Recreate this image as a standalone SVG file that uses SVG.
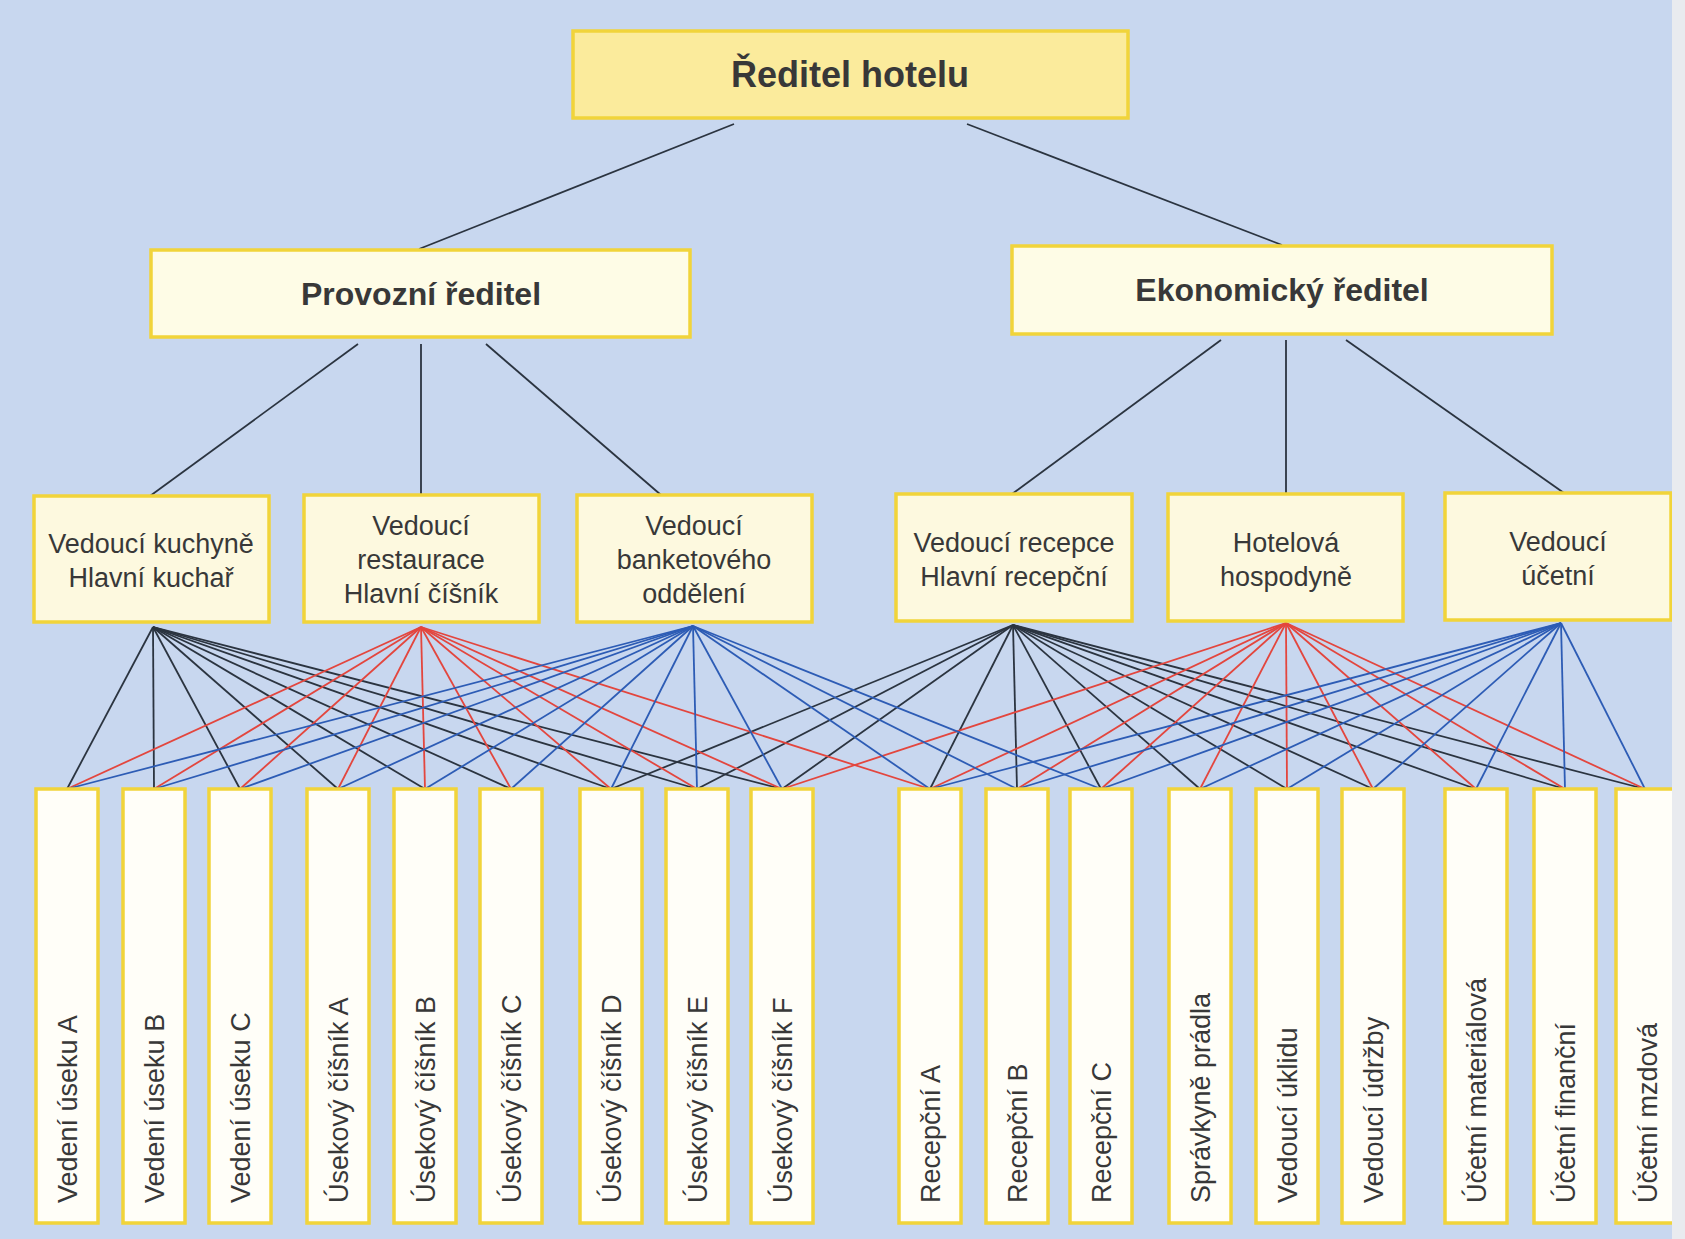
<svg xmlns="http://www.w3.org/2000/svg" width="1685" height="1239" viewBox="0 0 1685 1239">
<style>
.bg{fill:#c8d7ef}
.top{fill:#fbeb9c;stroke:#f1d43a;stroke-width:3.5}
.lvl2{fill:#fefce6;stroke:#f1d43a;stroke-width:3.5}
.mid{fill:#fdf9df;stroke:#f1d43a;stroke-width:3.5}
.leaf{fill:#fffef8;stroke:#f1d43a;stroke-width:3.5}
.t{font-family:"Liberation Sans",Arial,sans-serif;fill:#383838}
.tb{font-weight:bold;text-anchor:middle}
.tm{font-size:27px;text-anchor:middle}
.tl{font-size:27px}
.k{stroke:#2b3440;stroke-width:1.8;fill:none}
.r{stroke:#e3463e;stroke-width:1.8;fill:none}
.b{stroke:#2d5cb5;stroke-width:1.8;fill:none}
</style>
<rect class="bg" x="0" y="0" width="1685" height="1239"/>

<g id="connectors">
  <g class="k">
    <line x1="734" y1="124" x2="419" y2="249"/>
    <line x1="967" y1="124" x2="1282" y2="245"/>
    <line x1="358" y1="344" x2="150" y2="496"/>
    <line x1="421" y1="344" x2="421" y2="495"/>
    <line x1="486" y1="344" x2="661" y2="495"/>
    <line x1="1221" y1="340" x2="1012" y2="494"/>
    <line x1="1286" y1="340" x2="1286" y2="494"/>
    <line x1="1346" y1="340" x2="1564" y2="493"/>
  </g>
  <g class="k">
    <line x1="153" y1="627" x2="67" y2="789"/>
    <line x1="153" y1="627" x2="154" y2="789"/>
    <line x1="153" y1="627" x2="240" y2="789"/>
    <line x1="153" y1="627" x2="338" y2="789"/>
    <line x1="153" y1="627" x2="425" y2="789"/>
    <line x1="153" y1="627" x2="511" y2="789"/>
    <line x1="153" y1="627" x2="611" y2="789"/>
    <line x1="153" y1="627" x2="697" y2="789"/>
    <line x1="153" y1="627" x2="782" y2="789"/>
    <line x1="1013" y1="625" x2="611" y2="789"/>
    <line x1="1013" y1="625" x2="697" y2="789"/>
    <line x1="1013" y1="625" x2="782" y2="789"/>
    <line x1="1013" y1="625" x2="930" y2="789"/>
    <line x1="1013" y1="625" x2="1017" y2="789"/>
    <line x1="1013" y1="625" x2="1101" y2="789"/>
    <line x1="1013" y1="625" x2="1200" y2="789"/>
    <line x1="1013" y1="625" x2="1287" y2="789"/>
    <line x1="1013" y1="625" x2="1373" y2="789"/>
    <line x1="1013" y1="625" x2="1476" y2="789"/>
    <line x1="1013" y1="625" x2="1565" y2="789"/>
    <line x1="1013" y1="625" x2="1645" y2="789"/>
  </g>
  <g class="r">
    <line x1="421" y1="627" x2="67" y2="789"/>
    <line x1="421" y1="627" x2="154" y2="789"/>
    <line x1="421" y1="627" x2="240" y2="789"/>
    <line x1="421" y1="627" x2="338" y2="789"/>
    <line x1="421" y1="627" x2="425" y2="789"/>
    <line x1="421" y1="627" x2="511" y2="789"/>
    <line x1="421" y1="627" x2="611" y2="789"/>
    <line x1="421" y1="627" x2="697" y2="789"/>
    <line x1="421" y1="627" x2="782" y2="789"/>
    <line x1="421" y1="627" x2="930" y2="789"/>
    <line x1="1286" y1="623" x2="782" y2="789"/>
    <line x1="1286" y1="623" x2="930" y2="789"/>
    <line x1="1286" y1="623" x2="1017" y2="789"/>
    <line x1="1286" y1="623" x2="1101" y2="789"/>
    <line x1="1286" y1="623" x2="1200" y2="789"/>
    <line x1="1286" y1="623" x2="1287" y2="789"/>
    <line x1="1286" y1="623" x2="1373" y2="789"/>
    <line x1="1286" y1="623" x2="1476" y2="789"/>
    <line x1="1286" y1="623" x2="1565" y2="789"/>
    <line x1="1286" y1="623" x2="1645" y2="789"/>
  </g>
  <g class="b">
    <line x1="693" y1="626" x2="67" y2="789"/>
    <line x1="693" y1="626" x2="154" y2="789"/>
    <line x1="693" y1="626" x2="240" y2="789"/>
    <line x1="693" y1="626" x2="338" y2="789"/>
    <line x1="693" y1="626" x2="425" y2="789"/>
    <line x1="693" y1="626" x2="511" y2="789"/>
    <line x1="693" y1="626" x2="611" y2="789"/>
    <line x1="693" y1="626" x2="697" y2="789"/>
    <line x1="693" y1="626" x2="782" y2="789"/>
    <line x1="693" y1="626" x2="930" y2="789"/>
    <line x1="693" y1="626" x2="1017" y2="789"/>
    <line x1="693" y1="626" x2="1101" y2="789"/>
    <line x1="1561" y1="623" x2="930" y2="789"/>
    <line x1="1561" y1="623" x2="1017" y2="789"/>
    <line x1="1561" y1="623" x2="1101" y2="789"/>
    <line x1="1561" y1="623" x2="1200" y2="789"/>
    <line x1="1561" y1="623" x2="1287" y2="789"/>
    <line x1="1561" y1="623" x2="1373" y2="789"/>
    <line x1="1561" y1="623" x2="1476" y2="789"/>
    <line x1="1561" y1="623" x2="1565" y2="789"/>
    <line x1="1561" y1="623" x2="1645" y2="789"/>
  </g>
</g>

<g id="n-reditel">
  <rect class="top" x="573" y="31" width="555" height="87"/>
  <text class="t tb" x="850" y="87" font-size="36">Ředitel hotelu</text>
</g>
<g id="n-provozni">
  <rect class="lvl2" x="151" y="250" width="539" height="87"/>
  <text class="t tb" x="421" y="305" font-size="32">Provozní ředitel</text>
</g>
<g id="n-ekonomicky">
  <rect class="lvl2" x="1012" y="246" width="540" height="88"/>
  <text class="t tb" x="1282" y="301" font-size="32">Ekonomický ředitel</text>
</g>

<g id="n-kuchyne">
  <rect class="mid" x="34" y="496" width="235" height="126"/>
  <text class="t tm" x="151" y="553">Vedoucí kuchyně</text>
  <text class="t tm" x="151" y="587">Hlavní kuchař</text>
</g>
<g id="n-restaurace">
  <rect class="mid" x="304" y="495" width="235" height="127"/>
  <text class="t tm" x="421" y="535">Vedoucí</text>
  <text class="t tm" x="421" y="569">restaurace</text>
  <text class="t tm" x="421" y="603">Hlavní číšník</text>
</g>
<g id="n-banket">
  <rect class="mid" x="577" y="495" width="235" height="127"/>
  <text class="t tm" x="694" y="535">Vedoucí</text>
  <text class="t tm" x="694" y="569">banketového</text>
  <text class="t tm" x="694" y="603">oddělení</text>
</g>
<g id="n-recepce">
  <rect class="mid" x="896" y="494" width="236" height="127"/>
  <text class="t tm" x="1014" y="552">Vedoucí recepce</text>
  <text class="t tm" x="1014" y="586">Hlavní recepční</text>
</g>
<g id="n-hospodyne">
  <rect class="mid" x="1168" y="494" width="235" height="127"/>
  <text class="t tm" x="1286" y="552">Hotelová</text>
  <text class="t tm" x="1286" y="586">hospodyně</text>
</g>
<g id="n-ucetni">
  <rect class="mid" x="1445" y="493" width="226" height="127"/>
  <text class="t tm" x="1558" y="551">Vedoucí</text>
  <text class="t tm" x="1558" y="585">účetní</text>
</g>

<g id="n-l1"><rect class="leaf" x="36" y="789" width="62" height="434"/><text class="t tl" transform="translate(77,1203) rotate(-90)">Vedení úseku A</text></g>
<g id="n-l2"><rect class="leaf" x="123" y="789" width="62" height="434"/><text class="t tl" transform="translate(164,1203) rotate(-90)">Vedení úseku B</text></g>
<g id="n-l3"><rect class="leaf" x="209" y="789" width="62" height="434"/><text class="t tl" transform="translate(250,1203) rotate(-90)">Vedení úseku C</text></g>
<g id="n-l4"><rect class="leaf" x="307" y="789" width="62" height="434"/><text class="t tl" transform="translate(348,1203) rotate(-90)">Úsekový číšník A</text></g>
<g id="n-l5"><rect class="leaf" x="394" y="789" width="62" height="434"/><text class="t tl" transform="translate(435,1203) rotate(-90)">Úsekový číšník B</text></g>
<g id="n-l6"><rect class="leaf" x="480" y="789" width="62" height="434"/><text class="t tl" transform="translate(521,1203) rotate(-90)">Úsekový číšník C</text></g>
<g id="n-l7"><rect class="leaf" x="580" y="789" width="62" height="434"/><text class="t tl" transform="translate(621,1203) rotate(-90)">Úsekový číšník D</text></g>
<g id="n-l8"><rect class="leaf" x="666" y="789" width="62" height="434"/><text class="t tl" transform="translate(707,1203) rotate(-90)">Úsekový číšník E</text></g>
<g id="n-l9"><rect class="leaf" x="751" y="789" width="62" height="434"/><text class="t tl" transform="translate(792,1203) rotate(-90)">Úsekový číšník F</text></g>
<g id="n-l10"><rect class="leaf" x="899" y="789" width="62" height="434"/><text class="t tl" transform="translate(940,1203) rotate(-90)">Recepční A</text></g>
<g id="n-l11"><rect class="leaf" x="986" y="789" width="62" height="434"/><text class="t tl" transform="translate(1027,1203) rotate(-90)">Recepční B</text></g>
<g id="n-l12"><rect class="leaf" x="1070" y="789" width="62" height="434"/><text class="t tl" transform="translate(1111,1203) rotate(-90)">Recepční C</text></g>
<g id="n-l13"><rect class="leaf" x="1169" y="789" width="62" height="434"/><text class="t tl" transform="translate(1210,1203) rotate(-90)">Správkyně prádla</text></g>
<g id="n-l14"><rect class="leaf" x="1256" y="789" width="62" height="434"/><text class="t tl" transform="translate(1297,1203) rotate(-90)">Vedoucí úklidu</text></g>
<g id="n-l15"><rect class="leaf" x="1342" y="789" width="62" height="434"/><text class="t tl" transform="translate(1383,1203) rotate(-90)">Vedoucí údržby</text></g>
<g id="n-l16"><rect class="leaf" x="1445" y="789" width="62" height="434"/><text class="t tl" transform="translate(1486,1203) rotate(-90)">Účetní materiálová</text></g>
<g id="n-l17"><rect class="leaf" x="1534" y="789" width="62" height="434"/><text class="t tl" transform="translate(1575,1203) rotate(-90)">Účetní finanční</text></g>
<g id="n-l18"><rect class="leaf" x="1616" y="789" width="62" height="434"/><text class="t tl" transform="translate(1657,1203) rotate(-90)">Účetní mzdová</text></g>

<rect x="1672" y="0" width="13" height="1239" fill="#e9ebef"/>
</svg>
